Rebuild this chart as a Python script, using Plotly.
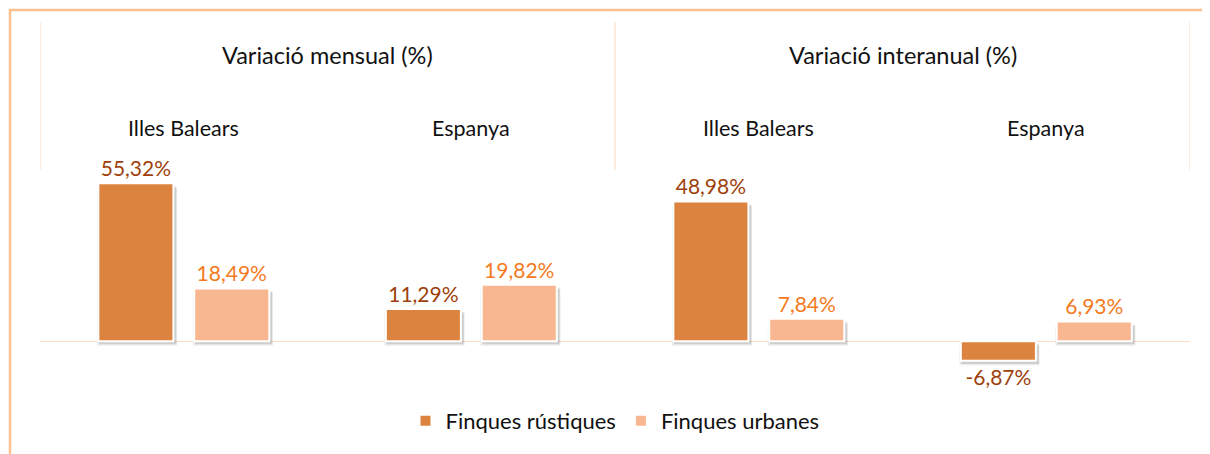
import plotly.graph_objects as go

# ---- data ----
groups = ["Illes Balears", "Espanya", "Illes Balears", "Espanya"]
periods = ["Variació mensual (%)", "Variació interanual (%)"]
rustiques = [55.32, 11.29, 48.98, -6.87]
urbanes = [18.49, 19.82, 7.84, 6.93]
series_names = ["Finques rústiques", "Finques urbanes"]

def fmt(v):
    return f"{v:.2f}".replace(".", ",") + "%"

x = list(range(len(groups)))
FONT = "Lato"
C_RUS = "#DC843F"
C_URB = "#F8B790"
C_RUS_T = "#9E3F0B"
C_URB_T = "#F57A1E"
LINE_C = "#FBDFC8"

W = 0.261
OFF_R = -0.297
OFF_U = 0.0365

# page is offset by the 8px body margin
SH = 8
FW, FH = 1210 - SH, 454 - SH

fig = go.Figure()

# soft drop shadows
for vals, off in [(rustiques, OFF_R), (urbanes, OFF_U)]:
    for dx, dw, b, a in [(0.004, 0.018, -1.6, 0.07), (0.006, 0.008, -1.1, 0.13)]:
        fig.add_trace(go.Bar(
            x=x, y=vals, base=[b] * len(vals), width=W + dw,
            offset=off - dw / 2 + dx,
            marker=dict(color=f"rgba(0,0,0,{a})", line=dict(width=0)),
            showlegend=False, hoverinfo="skip"))

fig.add_trace(go.Bar(
    x=x, y=rustiques, name=series_names[0], width=W, offset=OFF_R,
    marker=dict(color=C_RUS, line=dict(color="white", width=2)),
    text=[fmt(v) for v in rustiques], textposition="outside",
    textfont=dict(color=C_RUS_T, size=21, family=FONT),
    constraintext="none", cliponaxis=False))
fig.add_trace(go.Bar(
    x=x, y=urbanes, name=series_names[1], width=W, offset=OFF_U,
    marker=dict(color=C_URB, line=dict(color="white", width=2)),
    text=[fmt(v) for v in urbanes], textposition="outside",
    textfont=dict(color=C_URB_T, size=21, family=FONT),
    constraintext="none", cliponaxis=False))

PT, PB = 170 - SH, 384 - SH
H = PB - PT
def py(pix):
    return (PB - (pix - SH)) / H
PL, PR = 40 - SH, 1190 - SH
def px(pix):
    return ((pix - SH) - PL) / (PR - PL)

annotations = []
for i, g in enumerate(groups):
    annotations.append(dict(x=i, y=py(128), xref="x", yref="paper", text=g,
                            showarrow=False, yanchor="middle",
                            font=dict(size=21.5, color="#111111", family=FONT)))
for j, p in enumerate(periods):
    annotations.append(dict(x=2 * j + 0.5, y=py(55), xref="x", yref="paper", text=p,
                            showarrow=False, yanchor="middle",
                            font=dict(size=23.5, color="#111111", family=FONT)))

shapes = []
for sx in [-0.5, 1.5, 3.5]:
    shapes.append(dict(type="line", xref="x", yref="paper", x0=sx, x1=sx,
                       y0=1, y1=py(22), line=dict(color=LINE_C, width=1.2)))
shapes.append(dict(type="rect", xref="paper", yref="paper",
                   x0=px(10), x1=px(1240), y0=py(10), y1=py(480),
                   line=dict(color="#FAC08F", width=2.5), layer="below"))

fig.update_layout(
    width=FW, height=FH,
    margin=dict(l=PL, r=FW - PR, t=PT, b=FH - PB, pad=0),
    barmode="overlay",
    plot_bgcolor="white", paper_bgcolor="white",
    font=dict(family=FONT),
    xaxis=dict(range=[-0.5, 3.5], showticklabels=False, showgrid=False,
               zeroline=False, showline=False, ticks=""),
    yaxis=dict(range=[-15, 60], showticklabels=False, showgrid=False,
               zeroline=True, zerolinecolor=LINE_C, zerolinewidth=1.2,
               showline=False, ticks=""),
    legend=dict(orientation="h", x=0.5, xanchor="center", y=py(421), yanchor="middle",
                font=dict(size=22, color="#111111", family=FONT),
                itemwidth=30, tracegroupgap=0, bgcolor="rgba(0,0,0,0)"),
    annotations=annotations, shapes=shapes,
    showlegend=True,
)

fig.write_html("out.html")
